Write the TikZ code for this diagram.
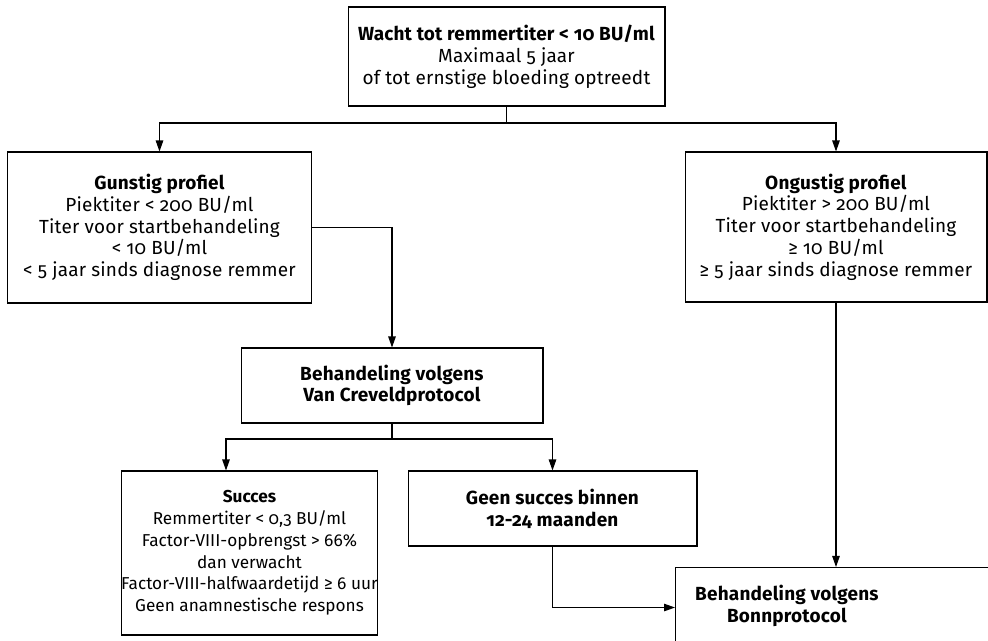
\documentclass[tikz,border=0pt]{standalone}
\usepackage{fontspec}
\setmainfont{Fira Sans}[Numbers=OldStyle,LetterSpace=1]
\usetikzlibrary{arrows.meta}

\begin{document}
\begin{tikzpicture}[x=0.02cm,y=-0.02cm,
  box/.style={draw,line width=0.6pt,align=center,inner sep=0pt,font=\fontsize{10.8}{12.4}\selectfont},
  smal/.style={font=\fontsize{9.8}{12.4}\selectfont\addfontfeature{LetterSpace=0}},
  txt/.style={align=center,inner sep=0pt,font=\fontsize{10.8}{12.4}\selectfont},
  line/.style={line width=0.6pt},
  arr/.style={line width=0.6pt,-{Triangle[length=0.22cm,width=0.15cm]}}]
\useasboundingbox (0,0) rectangle (988,641);
\clip (0,0) rectangle (988,641);

\node[box,minimum width=6.34cm,minimum height=1.98cm] at (506.5,56.5) (wacht) {\textbf{Wacht tot remmertiter < 10 BU/ml}\\Maximaal 5 jaar\\of tot ernstige bloeding optreedt};
\node[box,minimum width=6.10cm,minimum height=3.02cm] at (159.5,227.5) (gunstig) {\textbf{Gunstig profiel}\\Piektiter < 200 BU/ml\\Titer voor startbehandeling\\< 10 BU/ml\\< 5 jaar sinds diagnose remmer};
\node[box,minimum width=6.04cm,minimum height=3.00cm] at (836,227) (ongustig) {\textbf{Ongustig profiel}\\Piektiter > 200 BU/ml\\Titer voor startbehandeling\\≥ 10 BU/ml\\≥ 5 jaar sinds diagnose remmer};
\node[box,minimum width=6.04cm,minimum height=1.50cm] at (392,385.5) (creveld) {\textbf{Behandeling volgens}\\\textbf{Van Creveldprotocol}};
\node[box,smal,minimum width=5.10cm,minimum height=3.28cm] at (249.5,553) (succes) {\textbf{Succes}\\Remmertiter < 0,3 BU/ml\\Factor-VIII-opbrengst > 66\%\\dan verwacht\\Factor-VIII-halfwaardetijd ≥ 6 uur\\Geen anamnestische respons};
\node[box,minimum width=5.78cm,minimum height=1.50cm] at (552.5,508.5) (geen) {\textbf{Geen succes binnen}\\\textbf{12-24 maanden}};
\node[box,anchor=north west,minimum width=6.8cm,minimum height=1.6cm] at (675,567) (bonn) {};
\node[txt] at (787,606) (bonntekst) {\textbf{Behandeling volgens}\\\textbf{Bonnprotocol}};

\coordinate (split1) at (506.5,123);
\coordinate (split2) at (392,439);

\draw[line] (wacht) -- (split1);
\draw[arr] (split1) -| (gunstig);
\draw[arr] (split1) -| (ongustig);
\draw[arr] (gunstig.east) -| (creveld);
\draw[line] (creveld) -- (split2);
\draw[arr] (split2) -| ([xshift=-0.47cm]succes.north);
\draw[arr] (split2) -| (geen);
\draw[arr] (geen) |- (bonn);
\draw[arr] (ongustig) -- (ongustig |- bonn.north);
\end{tikzpicture}
\end{document}
